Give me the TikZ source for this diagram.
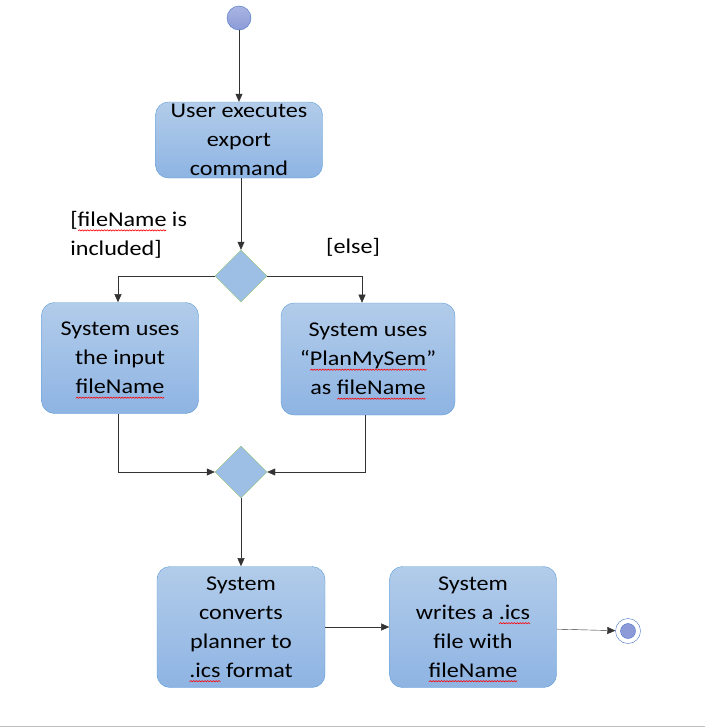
\documentclass[tikz,border=0pt]{standalone}
\usepackage{fontspec}
\setmainfont[FakeStretch = 1.15]{Carlito}
\usetikzlibrary{shapes.geometric, arrows.meta}
\definecolor{boxtop}{HTML}{B2CCEA}
\definecolor{boxbot}{HTML}{8EB4E3}
\definecolor{boxline}{HTML}{5B9BD5}
\definecolor{decfill}{HTML}{9DBFE6}
\definecolor{decline}{HTML}{8DC26E}
\definecolor{dotline}{HTML}{4472C4}
\definecolor{dotfill}{HTML}{8C9BD8}
\newsavebox{\spellbox}
% red wavy line under a word
\newcommand{\spellerr}[1]{\sbox{\spellbox}{#1}\pgfmathtruncatemacro{\nwave}{\wd\spellbox/1.4pt}%
	\rlap{\begin{pgfpicture}\pgfsetbaseline{0pt}\pgfsetcornersarced{\pgfpointorigin}%
		\pgfsetlinewidth{0.6pt}\pgfsetstrokecolor{red}\pgfpathmoveto{\pgfpoint{0pt}{-4.5pt}}%
		\foreach \k in {1,...,\nwave}{\pgfpathlineto{\pgfpoint{\k*1.4pt}{-4.5pt + mod(\k, 2)*1.2pt}}}%
		\pgfusepath{stroke}\end{pgfpicture}}\usebox{\spellbox}}
\tikzset{
	activity/.style = {draw = boxline, top color = boxtop, bottom color = boxbot, rounded corners = 13pt,
		align = center, inner sep = 0pt, font = \fontsize{21}{29}\selectfont, text depth = -6pt},
	decision/.style = {diamond, draw = decline, fill = decfill, minimum width = 52pt, minimum height = 52pt, inner sep = 0pt},
	flow/.style = {draw = black!80, -{Triangle[length = 8pt, width = 7pt]}},
	guard/.style = {align = left, font = \fontsize{21}{29}\selectfont}
}
\begin{document}
\begin{tikzpicture}[x = 1pt, y = -1pt]
		\useasboundingbox (0, 0) rectangle (705, 728);
		\draw[black!25] (0, 726.5) -- (705, 726.5);
		% start and end
		\node[circle, draw = dotline, top color = dotfill!75, bottom color = dotfill, minimum size = 24pt, inner sep = 0pt] (start) at (239, 18) {};
		\node[circle, draw = dotline, fill = white, minimum size = 25pt, inner sep = 0pt] (stop) at (628, 631) {};
		\node[circle, draw = dotline, fill = dotfill, minimum size = 15pt, inner sep = 0pt] at (stop) {};
		% activities
		\node[activity, minimum width = 167pt, minimum height = 76pt] (export) at (239, 140) {User executes\\export\\command};
		\node[activity, minimum width = 157pt, minimum height = 111pt] (input) at (120, 358) {System uses\\the input\\\spellerr{fileName}};
		\node[activity, minimum width = 174pt, minimum height = 112pt] (default) at (368, 359) {System uses\\“\spellerr{PlanMySem}”\\as \spellerr{fileName}};
		\node[activity, minimum width = 168pt, minimum height = 121pt] (convert) at (241, 627) {System\\converts\\planner to\\\spellerr{.ics} format};
		\node[activity, minimum width = 167pt, minimum height = 121pt] (write) at (473, 627) {System\\writes a \spellerr{.ics}\\file with\\\spellerr{fileName}};
		% decisions
		\node[decision] (choose) at (241, 276) {};
		\node[decision] (merge) at (241, 472) {};
		% guards
		\node[guard, anchor = north west, inner sep = 0pt] (included) at (70, 211) {[\spellerr{fileName} is\\included]};
		\node[guard] (else) at (353, 247) {[else]};
		% the flow
		\draw[flow] (start) -- (export);
		\draw[flow] (export.south -| choose) -- (choose.north);
		\draw[flow] (choose.west) -| ([xshift = -2pt]input.north);
		\draw[flow] (choose.east) -| ([xshift = -6pt]default.north);
		\draw[flow] ([xshift = -2pt]input.south) |- (merge.west);
		\draw[flow] ([xshift = -3pt]default.south) |- (merge.east);
		\draw[flow] (merge) -- (convert);
		\draw[flow] (convert) -- (write);
		\draw[flow] (write) -- (stop);
	\end{tikzpicture}
\end{document}
